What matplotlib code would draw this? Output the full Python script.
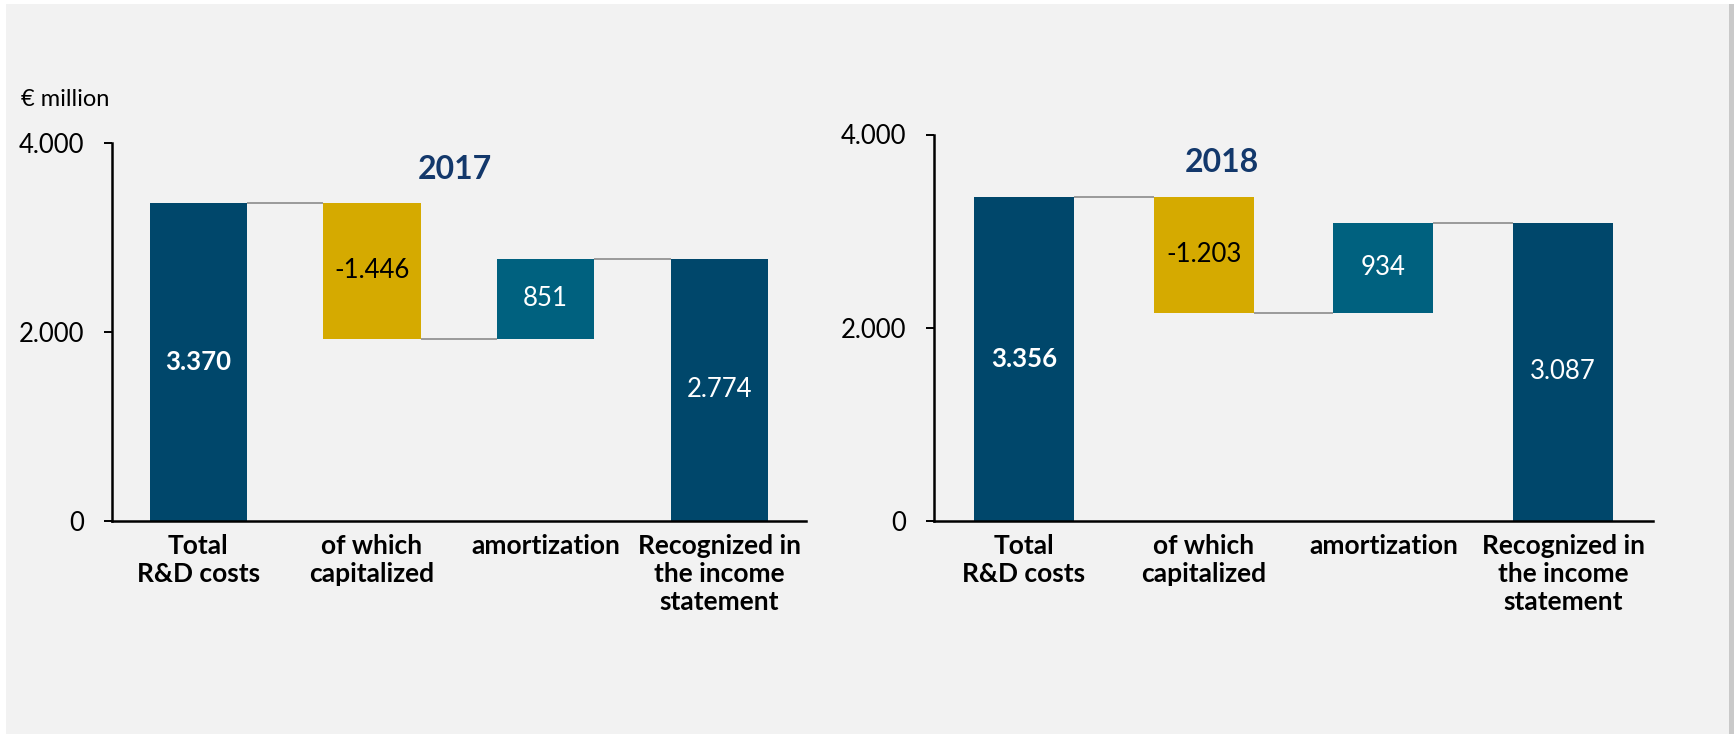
import matplotlib.pyplot as plt
from matplotlib.patches import Rectangle

# -----------------------------------------------------------------------------
# Data
# -----------------------------------------------------------------------------

CATEGORIES = [
    "Total\nR&D costs",
    "of which\ncapitalized",
    "amortization",
    "Recognized in\nthe income\nstatement",
]
VALUES_2017 = [3370, -1446, 851, 2774]
VALUES_2018 = [3356, -1203, 934, 3087]
YEARS = ["2017", "2018"]
Y_TICKS = [0, 2000, 4000]

# -----------------------------------------------------------------------------
# Style
# -----------------------------------------------------------------------------

FONT = ["Lato", "DejaVu Sans"]
BG = "#f2f2f2"
DARK = "#00476b"
TEAL = "#00617f"
GOLD = "#d5aa00"
TITLE_COLOR = "#13386b"
CONNECTOR = "#9a9a9a"
FS = 18.5

plt.rcParams["font.family"] = FONT


def fmt(v):
    s = f"{abs(v):,}".replace(",", ".")
    return "-" + s if v < 0 else s


def waterfall(ax, values, title, title_x, bar_width):
    n = len(values)
    running = 0
    levels = []
    for i, v in enumerate(values):
        if i == 0 or i == n - 1:
            bottom, height = 0, v
            color = DARK
            running = v
        else:
            if v < 0:
                bottom, height = running + v, -v
                color = GOLD
            else:
                bottom, height = running, v
                color = TEAL
            running += v
        ax.bar(i, height, bottom=bottom, width=bar_width, color=color, zorder=2)
        levels.append(running)

        txt_color = "black" if color == GOLD else "white"
        weight = "bold" if i == 0 else "normal"
        ax.text(i, bottom + height / 2, fmt(v), ha="center", va="center",
                color=txt_color, fontsize=FS, fontweight=weight, zorder=3)

    for i in range(n - 1):
        ax.plot([i + bar_width / 2, i + 1 - bar_width / 2], [levels[i], levels[i]],
                color=CONNECTOR, lw=1.4, zorder=1, solid_capstyle="butt")

    ax.set_xlim(-0.5, n - 0.5)
    ax.set_ylim(0, 4000)
    ax.set_yticks(Y_TICKS)
    ax.set_yticklabels([fmt(t) for t in Y_TICKS])
    ax.set_xticks(range(n))
    ax.set_xticklabels(CATEGORIES, fontweight="bold", fontsize=FS + 0.5)
    for lbl in ax.get_xticklabels():
        lbl.set_linespacing(1.2)
        lbl.set_verticalalignment("top")

    ax.tick_params(axis="y", direction="out", length=5.8, width=1.4,
                   labelsize=FS, pad=14)
    ax.tick_params(axis="x", length=0, pad=9)
    for side in ("top", "right"):
        ax.spines[side].set_visible(False)
    for side in ("left", "bottom"):
        ax.spines[side].set_linewidth(1.8)
    ax.set_facecolor("none")

    ax.text(title_x, 3715, title, ha="center", va="center", fontsize=23,
            fontweight="bold", color=TITLE_COLOR)


fig = plt.figure(figsize=(17.35, 7.35), dpi=100)
fig.patch.set_facecolor("white")

# panel background with a faint shadow on the right
fig.patches.append(Rectangle((7 / 1735, 1 / 735), 1727 / 1735, 730 / 735,
                             transform=fig.transFigure, facecolor="#c9c9c9",
                             edgecolor="none", zorder=-2))
fig.patches.append(Rectangle((6 / 1735, 1 / 735), 1723 / 1735, 730 / 735,
                             transform=fig.transFigure, facecolor=BG,
                             edgecolor="none", zorder=-1))

ax1 = fig.add_axes([111.5 / 1735, 214 / 735, 694.5 / 1735, 378 / 735])
ax2 = fig.add_axes([934 / 1735, 214 / 735, 719 / 1735, 386.5 / 735])

waterfall(ax1, VALUES_2017, YEARS[0], 1.48, 0.56)
waterfall(ax2, VALUES_2018, YEARS[1], 1.10, 0.556)

fig.text(21 / 1735, 1 - 99 / 735, "€ million", ha="left", va="center", fontsize=FS - 1.5)

fig.savefig("out.png", dpi=100)
